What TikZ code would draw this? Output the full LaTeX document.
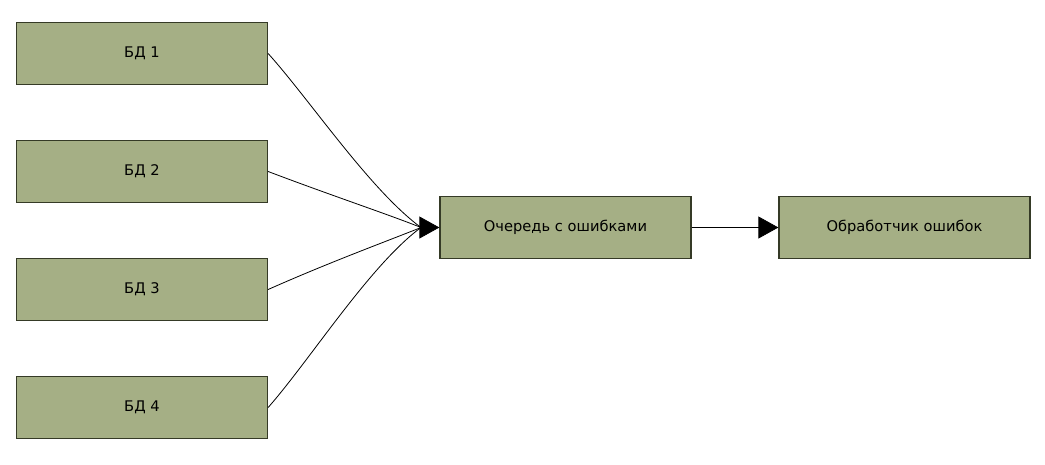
\documentclass[tikz,border=0pt]{standalone}
\usepackage{fontspec}
\setmainfont{DejaVu Sans}
\usetikzlibrary{arrows.meta}
\definecolor{boxfill}{HTML}{A5AF85}
\definecolor{boxdraw}{HTML}{353A26}
\begin{document}
\begin{tikzpicture}[x=0.75pt,y=-0.75pt,
  box/.style={draw=boxdraw,fill=boxfill,line width=1.2pt,minimum width=188pt,minimum height=46.5pt,inner sep=0pt,font=\fontsize{11}{13}\selectfont},
  conn/.style={line width=0.6pt,black},
  tip/.style={-{Triangle[length=15pt,width=16.5pt]}}]
\useasboundingbox (0,0) rectangle (1045,464);
\node[box] (b1) at (142,53.5) {БД 1};
\node[box] (b2) at (142,171.5) {БД 2};
\node[box] (b3) at (142,289.5) {БД 3};
\node[box] (b4) at (142,407.5) {БД 4};
\node[box] (q) at (565.5,227.5) {Очередь с ошибками};
\node[box] (h) at (904.5,227.5) {Обработчик ошибок};
\coordinate (m) at (421,227.5);
\draw[conn] (b1.east) .. controls (310,100) and (370,190) .. (m);
\draw[conn] (b2.east) .. controls (330,195) and (390,215) .. (m);
\draw[conn] (b3.east) .. controls (330,262) and (390,240) .. (m);
\draw[conn] (b4.east) .. controls (310,360) and (370,265) .. (m);
\draw[conn,tip] (m) -- (q.west);
\draw[conn,tip] (q.east) -- (h.west);
\end{tikzpicture}
\end{document}
